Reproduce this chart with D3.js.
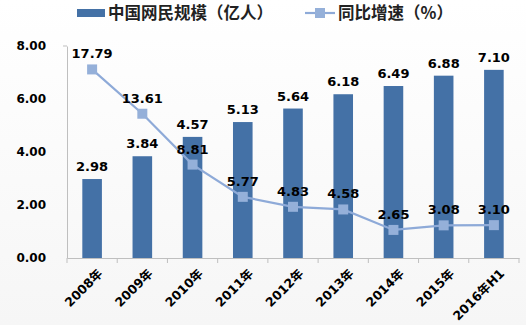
<!DOCTYPE html>
<html><head><meta charset="utf-8">
<script src="https://cdn.jsdelivr.net/npm/d3@7"></script>
<style>body{margin:0;background:#fff}svg{display:block}text{font-family:"DejaVu Sans","Noto Sans CJK SC",sans-serif}</style>
</head><body>
<script>
const categories = ["2008年","2009年","2010年","2011年","2012年","2013年","2014年","2015年","2016年H1"];
const users = [2.98,3.84,4.57,5.13,5.64,6.18,6.49,6.88,7.10];
const growth = [17.79,13.61,8.81,5.77,4.83,4.58,2.65,3.08,3.10];
const yTicks = [0,2,4,6,8];
const legendNames = ["中国网民规模（亿人）","同比增速（%）"];

(function(){
const W=526,H=325;
const svg=d3.select("body").append("svg").attr("width",W).attr("height",H);
const grad=svg.append("defs").append("linearGradient").attr("id","bg").attr("x1",0).attr("y1",0).attr("x2",0).attr("y2",1);
grad.append("stop").attr("offset","0").attr("stop-color","#ffffff");
grad.append("stop").attr("offset","1").attr("stop-color","#f6f6f6");
svg.append("rect").attr("width",W).attr("height",H).attr("fill","url(#bg)");

const mL=67,mR=519,mT=46,mB=258;
const x=d3.scaleBand().domain(categories).range([mL,mR]).paddingInner(0.61).paddingOuter(0.305);
const xc=d3.scaleBand().domain(categories).range([mL,mR]);
const y=d3.scaleLinear().domain([0,8]).range([mB,mT]);
const y2=d3.scaleLinear().domain([0,20]).range([mB,mT]);

// y axis
const ya=svg.append("g").attr("transform",`translate(${mL},0)`).call(d3.axisLeft(y).tickValues(yTicks).tickFormat(d3.format(".2f")).tickSize(0).tickPadding(21));
ya.select(".domain").attr("stroke","#bfbfbf");
ya.selectAll("text").attr("font-size",12).attr("font-weight","bold").attr("fill","#000").style("font-family","'DejaVu Sans',sans-serif");
svg.append("line").attr("x1",mL-4).attr("x2",mL).attr("y1",mT).attr("y2",mT).attr("stroke","#bfbfbf");
// x axis
const xa=svg.append("g").attr("transform",`translate(0,${mB})`).call(d3.axisBottom(xc).tickSize(0).tickFormat(""));
xa.select(".domain").attr("stroke","#bfbfbf");
const tickPos=d3.range(categories.length+1).map(i=>mL+i*xc.step());
svg.append("g").selectAll("line").data(tickPos).join("line").attr("x1",d=>d).attr("x2",d=>d).attr("y1",mB).attr("y2",mB+5).attr("stroke","#bfbfbf");
svg.append("g").selectAll("text").data(categories).join("text")
 .attr("transform",d=>`translate(${xc(d)+xc.bandwidth()/2+6},${mB+11}) rotate(-45)`)
 .attr("text-anchor","end").attr("dy","0.6em").attr("font-size",12.5).attr("font-weight","bold").text(d=>d);

// bars
svg.append("g").selectAll("rect").data(categories).join("rect")
 .attr("x",d=>x(d)).attr("width",x.bandwidth()).attr("y",(d,i)=>y(users[i])).attr("height",(d,i)=>mB-y(users[i]))
 .attr("fill","#4471a6");
svg.append("g").selectAll("text").data(categories).join("text")
 .attr("x",d=>x(d)+x.bandwidth()/2).attr("y",(d,i)=>y(users[i])-8).attr("text-anchor","middle")
 .attr("font-size",13).attr("font-weight","bold").text((d,i)=>users[i].toFixed(2));

// line
const cx=d=>xc(d)+xc.bandwidth()/2;
svg.append("path").datum(categories).attr("fill","none").attr("stroke","#8eaad8").attr("stroke-width",2.2)
 .attr("d",d3.line().x(d=>cx(d)).y((d,i)=>y2(growth[i])));
svg.append("g").selectAll("rect").data(categories).join("rect")
 .attr("x",d=>cx(d)-5).attr("y",(d,i)=>y2(growth[i])-5).attr("width",10).attr("height",10).attr("fill","#95b0d9");
svg.append("g").selectAll("text").data(categories).join("text")
 .attr("x",d=>cx(d)).attr("y",(d,i)=>y2(growth[i])-11).attr("text-anchor","middle")
 .attr("font-size",13).attr("font-weight","bold").text((d,i)=>growth[i].toFixed(2));

// legend
const lg=svg.append("g");
lg.append("rect").attr("x",77).attr("y",9).attr("width",28).attr("height",8).attr("fill","#4471a6");
lg.append("text").attr("x",108).attr("y",19).attr("font-size",16.5).attr("font-weight","bold").attr("fill","#222").style("font-family","'Noto Sans CJK SC',sans-serif").text(legendNames[0]);
lg.append("line").attr("x1",305).attr("x2",335).attr("y1",13).attr("y2",13).attr("stroke","#8eaad8").attr("stroke-width",2.2);
lg.append("rect").attr("x",315).attr("y",8).attr("width",10).attr("height",10).attr("fill","#95b0d9");
lg.append("text").attr("x",338).attr("y",19).attr("font-size",16.5).attr("font-weight","bold").attr("fill","#222").style("font-family","'Noto Sans CJK SC',sans-serif").text(legendNames[1]);
})();
</script>
</body></html>
